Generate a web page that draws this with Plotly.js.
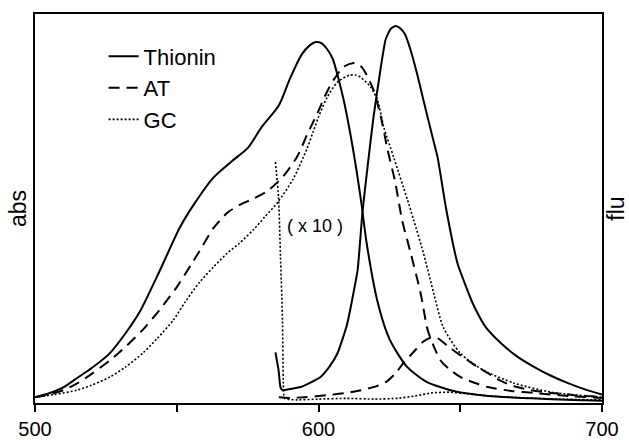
<!DOCTYPE html>
<html>
<head>
<meta charset="utf-8">
<script src="https://cdn.plot.ly/plotly-3.0.1.min.js"></script>
<style>html,body{margin:0;padding:0;background:#fff;}#chart{width:629px;height:440px;}</style>
</head>
<body>
<div id="chart"></div>
<script>
// Absorption spectra (left axis "abs")
const thioninAbsWl = [500,505,510,515,520,526,532,537,544,551,556,563,570,575,580,586,590,594,597,599,601,603,605,607,609,612,615,617,621,625,631,638,648,660,675,690,700];
const thioninAbs   = [0.015,0.025,0.04,0.065,0.09,0.125,0.18,0.235,0.34,0.45,0.51,0.58,0.625,0.655,0.71,0.765,0.835,0.895,0.92,0.928,0.925,0.91,0.885,0.835,0.775,0.66,0.52,0.41,0.255,0.165,0.095,0.055,0.03,0.018,0.012,0.008,0.006];

const atAbsWl = [500,505,510,515,520,526.5,532,538,544,550,555,558,563,568,572.4,577,582,587.6,592.6,596,599.6,603,605.3,608.8,612.4,614,616,619.4,622,624.4,627,629.5,632.5,636,638.5,641,643,646,650,655,659.7,668,676,688,700];
const atAbs   = [0.015,0.022,0.033,0.051,0.075,0.11,0.145,0.188,0.24,0.298,0.355,0.39,0.45,0.49,0.51,0.525,0.545,0.583,0.635,0.69,0.745,0.8,0.83,0.864,0.874,0.872,0.856,0.805,0.735,0.65,0.57,0.47,0.386,0.283,0.188,0.14,0.11,0.088,0.067,0.052,0.041,0.031,0.026,0.018,0.013];

const gcAbsWl = [500,507,514.8,520,526.5,532,538,543,548.8,553,558,563,567.8,572,577,581,585.5,591,596,598,600,603,606.7,611,613,614.8,618.4,620.8,623,626.5,631.4,633.6,637,640.6,644,650,658,669,682,700];
const gcAbs   = [0.015,0.022,0.033,0.046,0.067,0.093,0.128,0.165,0.213,0.26,0.31,0.35,0.385,0.41,0.445,0.478,0.515,0.575,0.655,0.695,0.735,0.785,0.825,0.843,0.843,0.838,0.812,0.779,0.71,0.632,0.522,0.47,0.386,0.283,0.195,0.128,0.085,0.051,0.028,0.015];

// Fluorescence spectra (right axis "flu")
const thioninFluWl = [584.8,585.9,586.6,587.3,590,593.6,597,600.7,604,606.7,610,612,613.8,615.5,617.3,619.4,622,623.7,625.5,627.2,629,630.5,632.5,635,637,640,642,645,649,652,654.8,659,664.3,670,676,682,688,694,700];
const thioninFlu   = [0.13,0.085,0.04,0.033,0.036,0.041,0.052,0.067,0.095,0.128,0.2,0.27,0.342,0.49,0.607,0.735,0.864,0.935,0.962,0.969,0.962,0.948,0.907,0.84,0.779,0.69,0.632,0.5,0.36,0.3,0.25,0.195,0.154,0.12,0.093,0.07,0.051,0.035,0.022];

const atFluWl = [586,590,595,603,610,615,620,624,627,630,634,637,639.6,641,643,645.6,649,652.6,656,659.7,664,669,675,682,690,700];
const atFlu   = [0.015,0.013,0.015,0.02,0.026,0.033,0.042,0.055,0.075,0.103,0.135,0.158,0.168,0.17,0.162,0.146,0.128,0.11,0.093,0.077,0.058,0.043,0.033,0.026,0.02,0.016];

const gcFluWl = [584.8,585.9,586.6,587.3,587.6,588,592,600,610,620,628,634,640,646,652,660,670,685,700];
const gcFlu   = [0.62,0.53,0.375,0.213,0.05,0.012,0.008,0.01,0.012,0.01,0.012,0.018,0.026,0.028,0.024,0.018,0.014,0.01,0.008];

const seriesNames = ['Thionin','AT','GC'];
const tickVals = [500,550,600,650,700];
const tickText = ['500','','600','','700'];

const FONT = 'Liberation Sans, Arial, sans-serif';
const solid = {color:'#000', width:2, dash:'solid', shape:'spline', smoothing:0.7};
const dashed = {color:'#000', width:2, dash:'11px,7px', shape:'spline', smoothing:0.7};
const dotted = {color:'#000', width:1.6, dash:'2px,2px', shape:'spline', smoothing:0.7};
const solidF = Object.assign({}, solid, {smoothing:0.5});
const dottedF = Object.assign({}, dotted, {smoothing:0.4});

const traces = [
  {x: thioninAbsWl, y: thioninAbs, name: seriesNames[0], legendgroup:'t', mode:'lines', line: solid, yaxis:'y'},
  {x: atAbsWl, y: atAbs, name: seriesNames[1], legendgroup:'a', mode:'lines', line: dashed, yaxis:'y'},
  {x: gcAbsWl, y: gcAbs, name: seriesNames[2], legendgroup:'g', mode:'lines', line: dotted, yaxis:'y'},
  {x: thioninFluWl, y: thioninFlu, name: seriesNames[0], legendgroup:'t', showlegend:false, mode:'lines', line: solidF, yaxis:'y2'},
  {x: atFluWl, y: atFlu, name: seriesNames[1], legendgroup:'a', showlegend:false, mode:'lines', line: dashed, yaxis:'y2'},
  {x: gcFluWl, y: gcFlu, name: seriesNames[2], legendgroup:'g', showlegend:false, mode:'lines', line: dottedF, yaxis:'y2'}
];

const layout = {
  width: 629, height: 440,
  margin: {l:35, r:27, t:14, b:37, pad:0},
  paper_bgcolor:'#fff', plot_bgcolor:'#fff',
  font: {family: FONT, color:'#000', size: 20},
  showlegend: true,
  legend: {x:0.121, y:0.945, xanchor:'left', yanchor:'top', bgcolor:'rgba(0,0,0,0)', borderwidth:0, font:{family:FONT, size:22, color:'#000'}, tracegroupgap:0},
  xaxis: {
    range:[500,700], tickvals: tickVals, ticktext: tickText,
    ticks:'outside', ticklen:7, tickwidth:2, tickcolor:'#000',
    showline:true, linewidth:2, linecolor:'#000', mirror:true,
    showgrid:false, zeroline:false,
    tickfont:{family:FONT, size:20, color:'#000'}
  },
  yaxis: {
    range:[0,1], showticklabels:false, ticks:'', showgrid:false, zeroline:false,
    showline:true, linewidth:2, linecolor:'#000', mirror:true,
    title:{text:'abs', font:{family:FONT, size:23, color:'#000'}, standoff:0}
  },
  yaxis2: {
    range:[0,1], overlaying:'y', side:'right', showticklabels:false, ticks:'', showgrid:false, zeroline:false,
    showline:false,
    title:{text:'flu', font:{family:FONT, size:23, color:'#000'}, standoff:6}
  },
  annotations: [
    {x: 598.6, y: 0.455, xref:'x', yref:'y', text:'( x 10 )', showarrow:false, font:{family:FONT, size:18, color:'#000'}}
  ]
};

Plotly.newPlot('chart', traces, layout, {displayModeBar:false, staticPlot:true});
</script>
</body>
</html>
